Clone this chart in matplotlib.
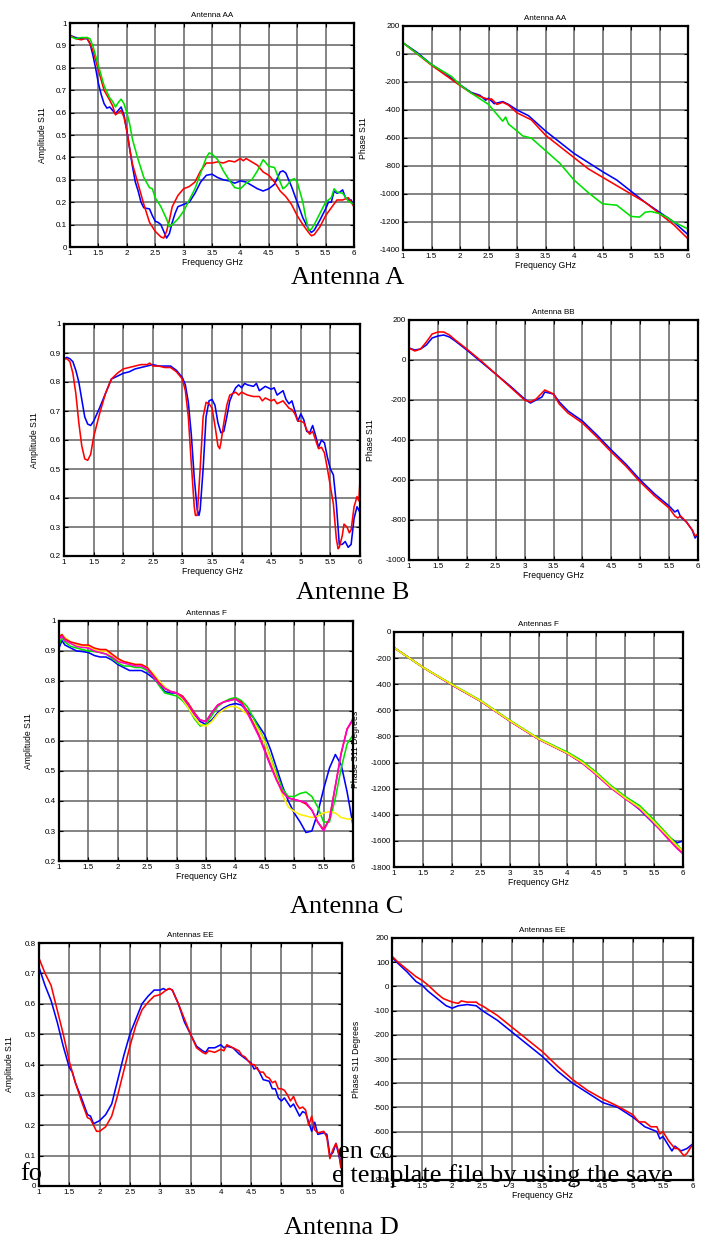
import matplotlib
matplotlib.use("Agg")
import matplotlib.pyplot as plt
import numpy as np

W, H = 707, 1238
DPI = 100

# ---------------- Data ----------------
# Panel 1: Antenna AA amplitude
aa_amp_blue_f = [1.0,1.1,1.2,1.3,1.35,1.4,1.45,1.5,1.55,1.6,1.65,1.7,1.75,1.8,1.85,1.9,1.95,2.0,2.05,2.1,2.15,2.2,2.25,2.3,2.4,2.45,2.5,2.55,2.6,2.65,2.7,2.75,2.8,2.85,2.9,3.0,3.1,3.2,3.3,3.4,3.5,3.6,3.7,3.8,3.9,4.0,4.1,4.2,4.3,4.4,4.5,4.6,4.7,4.75,4.8,4.9,5.0,5.1,5.2,5.25,5.3,5.4,5.5,5.55,5.6,5.65,5.7,5.75,5.8,5.85,5.9,5.95,6.0]
aa_amp_blue = [0.945,0.935,0.93,0.93,0.91,0.86,0.8,0.73,0.68,0.64,0.62,0.625,0.61,0.595,0.61,0.625,0.59,0.52,0.44,0.36,0.29,0.25,0.2,0.175,0.17,0.14,0.115,0.11,0.1,0.07,0.04,0.06,0.11,0.15,0.18,0.19,0.2,0.24,0.29,0.32,0.325,0.31,0.3,0.295,0.285,0.295,0.29,0.275,0.26,0.25,0.26,0.28,0.335,0.34,0.33,0.27,0.2,0.13,0.08,0.065,0.075,0.12,0.17,0.2,0.2,0.25,0.24,0.245,0.255,0.22,0.21,0.21,0.18]
aa_amp_red_f = [1.0,1.1,1.2,1.3,1.4,1.5,1.6,1.7,1.75,1.8,1.85,1.9,1.95,2.0,2.05,2.1,2.2,2.3,2.4,2.5,2.6,2.65,2.7,2.75,2.8,2.9,3.0,3.1,3.2,3.3,3.4,3.5,3.6,3.7,3.8,3.9,4.0,4.05,4.1,4.2,4.3,4.4,4.5,4.6,4.7,4.8,4.9,5.0,5.1,5.2,5.25,5.3,5.4,5.5,5.6,5.7,5.8,5.9,6.0]
aa_amp_red = [0.945,0.93,0.925,0.935,0.88,0.79,0.7,0.655,0.63,0.59,0.6,0.61,0.58,0.52,0.44,0.37,0.28,0.19,0.11,0.07,0.045,0.04,0.07,0.12,0.18,0.23,0.26,0.27,0.29,0.34,0.375,0.375,0.38,0.375,0.385,0.38,0.395,0.385,0.395,0.38,0.365,0.335,0.32,0.29,0.25,0.225,0.19,0.14,0.1,0.065,0.05,0.055,0.09,0.14,0.175,0.21,0.21,0.22,0.18]
aa_amp_green_f = [1.0,1.1,1.2,1.3,1.35,1.4,1.5,1.6,1.7,1.75,1.8,1.85,1.9,1.95,2.0,2.05,2.1,2.2,2.3,2.4,2.45,2.5,2.55,2.6,2.7,2.75,2.8,2.9,3.0,3.1,3.2,3.3,3.4,3.45,3.5,3.6,3.7,3.8,3.9,4.0,4.1,4.2,4.3,4.4,4.5,4.6,4.7,4.75,4.8,4.9,4.95,5.0,5.1,5.15,5.2,5.25,5.3,5.4,5.5,5.6,5.65,5.7,5.8,5.9,6.0]
aa_amp_green = [0.94,0.93,0.935,0.935,0.93,0.9,0.81,0.72,0.665,0.65,0.625,0.645,0.66,0.64,0.6,0.55,0.48,0.39,0.31,0.265,0.26,0.22,0.2,0.18,0.125,0.09,0.1,0.125,0.16,0.21,0.26,0.33,0.4,0.42,0.415,0.39,0.34,0.3,0.265,0.26,0.285,0.3,0.34,0.39,0.36,0.355,0.29,0.26,0.27,0.3,0.305,0.29,0.2,0.13,0.075,0.08,0.1,0.15,0.2,0.22,0.26,0.245,0.24,0.205,0.19]

# Panel 2: Antenna AA phase
aa_ph_blue_f = [1.0,1.25,1.5,1.75,2.0,2.2,2.35,2.45,2.5,2.6,2.75,2.85,3.0,3.2,3.5,4.0,4.5,4.75,5.0,5.25,5.5,5.75,6.0]
aa_ph_blue = [80,10,-75,-140,-220,-275,-295,-330,-315,-355,-340,-360,-400,-440,-550,-710,-840,-900,-980,-1060,-1130,-1200,-1290]
aa_ph_red_f = [1.0,1.5,2.0,2.2,2.4,2.5,2.55,2.65,2.75,2.85,3.0,3.25,3.5,4.0,4.25,4.5,4.75,5.0,5.25,5.5,5.75,6.0]
aa_ph_red = [80,-80,-225,-280,-310,-325,-320,-360,-345,-365,-420,-470,-580,-740,-820,-880,-940,-1000,-1060,-1140,-1220,-1320]
aa_ph_green_f = [1.0,1.5,1.85,2.0,2.2,2.5,2.75,2.8,2.85,3.0,3.1,3.25,3.5,3.75,4.0,4.25,4.5,4.75,5.0,5.15,5.25,5.35,5.5,5.65,5.75,6.0]
aa_ph_green = [80,-75,-160,-220,-280,-360,-480,-450,-500,-550,-585,-600,-690,-780,-900,-990,-1070,-1080,-1160,-1165,-1130,-1125,-1140,-1170,-1200,-1250]

# Panel 3: Antenna B amplitude
bb_amp_blue_f = [1.0,1.05,1.1,1.15,1.2,1.25,1.3,1.35,1.4,1.45,1.5,1.6,1.7,1.8,1.9,2.0,2.1,2.2,2.3,2.4,2.5,2.6,2.7,2.8,2.9,3.0,3.05,3.1,3.15,3.2,3.25,3.28,3.3,3.35,3.4,3.45,3.5,3.55,3.6,3.65,3.7,3.75,3.8,3.85,3.9,3.95,4.0,4.05,4.1,4.2,4.25,4.3,4.4,4.5,4.55,4.6,4.7,4.75,4.8,4.85,4.9,4.95,5.0,5.05,5.1,5.15,5.2,5.25,5.3,5.35,5.4,5.45,5.5,5.55,5.6,5.65,5.7,5.75,5.8,5.85,5.9,5.95,6.0]
bb_amp_blue = [0.88,0.885,0.88,0.87,0.84,0.8,0.74,0.68,0.655,0.65,0.665,0.71,0.76,0.81,0.82,0.83,0.835,0.845,0.85,0.855,0.86,0.855,0.855,0.855,0.84,0.815,0.79,0.73,0.62,0.47,0.36,0.34,0.36,0.5,0.68,0.735,0.74,0.72,0.66,0.625,0.63,0.68,0.735,0.76,0.78,0.79,0.78,0.795,0.79,0.785,0.795,0.77,0.785,0.775,0.78,0.755,0.77,0.74,0.725,0.735,0.7,0.665,0.69,0.67,0.63,0.625,0.65,0.615,0.575,0.6,0.59,0.54,0.5,0.48,0.38,0.24,0.24,0.25,0.23,0.24,0.33,0.37,0.35]
bb_amp_red_f = [1.0,1.05,1.1,1.15,1.2,1.25,1.3,1.35,1.4,1.45,1.5,1.6,1.7,1.8,1.9,2.0,2.1,2.2,2.3,2.4,2.45,2.5,2.6,2.7,2.8,2.9,3.0,3.05,3.1,3.15,3.2,3.22,3.25,3.3,3.35,3.4,3.45,3.5,3.55,3.6,3.63,3.65,3.7,3.75,3.8,3.9,3.95,4.0,4.1,4.2,4.3,4.35,4.4,4.5,4.55,4.6,4.7,4.8,4.85,4.9,4.95,5.0,5.05,5.1,5.15,5.2,5.25,5.3,5.35,5.4,5.45,5.5,5.55,5.6,5.63,5.65,5.7,5.73,5.78,5.82,5.85,5.9,5.95,5.98,6.0]
bb_amp_red = [0.88,0.88,0.87,0.83,0.76,0.66,0.58,0.535,0.53,0.55,0.61,0.69,0.76,0.81,0.83,0.845,0.85,0.855,0.86,0.86,0.865,0.855,0.855,0.85,0.85,0.835,0.81,0.77,0.68,0.52,0.37,0.34,0.34,0.5,0.68,0.73,0.725,0.71,0.65,0.58,0.57,0.59,0.66,0.72,0.755,0.765,0.755,0.765,0.755,0.75,0.75,0.735,0.745,0.735,0.74,0.725,0.735,0.71,0.705,0.69,0.665,0.665,0.66,0.635,0.62,0.63,0.6,0.57,0.575,0.555,0.5,0.44,0.38,0.26,0.225,0.23,0.27,0.31,0.3,0.28,0.29,0.37,0.405,0.39,0.46]

# Panel 4: Antenna BB phase
bb_ph_blue_f = [1.0,1.1,1.2,1.3,1.4,1.5,1.6,1.7,1.8,2.0,2.25,2.5,2.75,3.0,3.1,3.2,3.3,3.35,3.5,3.6,3.75,4.0,4.25,4.5,4.75,5.0,5.25,5.5,5.6,5.65,5.7,5.8,5.9,5.95,6.0]
bb_ph_blue = [60,50,55,75,110,120,125,115,95,50,-10,-70,-130,-195,-215,-200,-185,-160,-170,-210,-255,-305,-375,-450,-520,-600,-670,-730,-760,-750,-785,-810,-850,-890,-870]
bb_ph_red_f = [1.0,1.1,1.2,1.3,1.4,1.5,1.6,1.7,1.8,2.0,2.25,2.5,2.75,3.0,3.1,3.2,3.25,3.35,3.5,3.6,3.75,4.0,4.25,4.5,4.75,5.0,5.25,5.5,5.6,5.65,5.7,5.8,5.9,5.95,6.0]
bb_ph_red = [60,45,55,90,130,140,140,125,100,55,-5,-70,-135,-200,-210,-195,-180,-150,-170,-220,-265,-315,-385,-460,-530,-610,-680,-740,-780,-790,-780,-810,-850,-880,-870]

# Panel 5: Antennas F amplitude
f_amp_f = [1.0,1.05,1.1,1.2,1.3,1.4,1.5,1.6,1.7,1.8,1.9,2.0,2.1,2.2,2.3,2.4,2.5,2.6,2.7,2.8,2.9,3.0,3.1,3.2,3.3,3.4,3.5,3.6,3.7,3.8,3.9,4.0,4.1,4.2,4.3,4.4,4.5,4.6,4.7,4.8,4.9,5.0,5.1,5.2,5.3,5.4,5.5,5.6,5.7,5.8,5.9,6.0]
f_amp_blue = [0.91,0.935,0.92,0.91,0.9,0.898,0.895,0.885,0.88,0.88,0.87,0.855,0.845,0.835,0.835,0.835,0.825,0.81,0.79,0.765,0.76,0.76,0.745,0.72,0.69,0.665,0.655,0.67,0.695,0.71,0.72,0.725,0.72,0.7,0.68,0.65,0.62,0.57,0.51,0.45,0.4,0.36,0.33,0.295,0.3,0.36,0.44,0.51,0.555,0.52,0.43,0.32]
f_amp_green = [0.92,0.945,0.93,0.915,0.91,0.905,0.9,0.898,0.895,0.89,0.875,0.86,0.85,0.85,0.845,0.845,0.835,0.815,0.785,0.76,0.755,0.75,0.735,0.71,0.675,0.65,0.655,0.685,0.715,0.73,0.74,0.745,0.735,0.715,0.68,0.64,0.6,0.545,0.49,0.44,0.415,0.415,0.425,0.43,0.415,0.38,0.33,0.33,0.41,0.51,0.59,0.62]
f_amp_red = [0.945,0.955,0.94,0.93,0.925,0.92,0.92,0.91,0.905,0.905,0.89,0.875,0.865,0.86,0.855,0.855,0.845,0.82,0.795,0.775,0.765,0.76,0.75,0.725,0.695,0.67,0.665,0.695,0.72,0.73,0.735,0.74,0.73,0.7,0.66,0.62,0.57,0.52,0.47,0.43,0.41,0.405,0.4,0.39,0.37,0.33,0.305,0.34,0.45,0.56,0.64,0.67]
f_amp_magenta = [0.94,0.95,0.935,0.925,0.915,0.912,0.91,0.9,0.895,0.89,0.88,0.865,0.86,0.855,0.85,0.85,0.84,0.815,0.79,0.775,0.765,0.76,0.745,0.72,0.69,0.67,0.665,0.695,0.72,0.73,0.735,0.74,0.725,0.695,0.655,0.615,0.565,0.515,0.47,0.43,0.41,0.405,0.4,0.395,0.37,0.33,0.3,0.34,0.45,0.56,0.64,0.675]
f_amp_yellow = [0.95,0.955,0.945,0.93,0.92,0.918,0.915,0.905,0.9,0.9,0.885,0.87,0.865,0.86,0.855,0.855,0.845,0.825,0.8,0.78,0.765,0.76,0.74,0.71,0.68,0.655,0.65,0.665,0.69,0.705,0.715,0.715,0.705,0.69,0.665,0.635,0.595,0.54,0.48,0.42,0.38,0.365,0.355,0.35,0.345,0.35,0.36,0.365,0.36,0.345,0.34,0.34]

# Panel 6: Antennas F phase
f_ph_f = [1.0,1.5,2.0,2.5,3.0,3.5,4.0,4.25,4.5,4.75,5.0,5.25,5.5,5.75,5.9,6.0]
f_ph_blue = [-120,-270,-405,-530,-680,-820,-930,-1000,-1090,-1190,-1270,-1360,-1470,-1570,-1615,-1600]
f_ph_green = [-120,-270,-400,-525,-675,-815,-920,-985,-1075,-1175,-1260,-1330,-1440,-1560,-1630,-1680]
f_ph_red = [-120,-270,-405,-530,-680,-820,-930,-1000,-1090,-1190,-1275,-1350,-1460,-1580,-1650,-1690]
f_ph_magenta = [-120,-270,-405,-530,-682,-822,-932,-1002,-1095,-1195,-1278,-1355,-1465,-1590,-1660,-1700]
f_ph_yellow = [-120,-270,-402,-528,-678,-818,-928,-995,-1085,-1185,-1270,-1345,-1455,-1570,-1640,-1680]

# Panel 7: Antennas EE amplitude
ee_amp_blue_f = [1.0,1.1,1.2,1.3,1.4,1.5,1.55,1.6,1.7,1.8,1.85,1.9,2.0,2.1,2.2,2.3,2.4,2.5,2.6,2.7,2.8,2.9,3.0,3.05,3.1,3.15,3.2,3.3,3.4,3.5,3.6,3.7,3.75,3.8,3.9,4.0,4.05,4.1,4.2,4.3,4.4,4.5,4.55,4.6,4.7,4.8,4.85,4.9,4.95,5.0,5.05,5.1,5.15,5.2,5.25,5.3,5.35,5.4,5.45,5.5,5.55,5.6,5.7,5.75,5.8,5.85,5.9,5.95,5.98,6.0]
ee_amp_blue = [0.72,0.66,0.61,0.54,0.46,0.39,0.375,0.34,0.29,0.235,0.23,0.205,0.215,0.235,0.27,0.35,0.43,0.5,0.55,0.6,0.625,0.645,0.645,0.65,0.645,0.65,0.645,0.6,0.54,0.5,0.46,0.445,0.44,0.455,0.455,0.465,0.455,0.46,0.455,0.435,0.42,0.405,0.385,0.39,0.35,0.345,0.32,0.32,0.29,0.28,0.29,0.275,0.26,0.27,0.25,0.23,0.245,0.24,0.21,0.18,0.21,0.17,0.175,0.17,0.1,0.11,0.14,0.1,0.07,0.11]
ee_amp_red_f = [1.0,1.1,1.2,1.3,1.4,1.5,1.6,1.7,1.8,1.85,1.9,1.95,2.0,2.1,2.2,2.3,2.4,2.5,2.6,2.7,2.8,2.9,3.0,3.1,3.15,3.2,3.3,3.4,3.5,3.6,3.7,3.75,3.8,3.9,4.0,4.05,4.1,4.2,4.3,4.35,4.4,4.5,4.55,4.6,4.65,4.7,4.75,4.8,4.85,4.9,4.95,5.0,5.05,5.1,5.15,5.2,5.25,5.3,5.35,5.4,5.45,5.5,5.55,5.6,5.7,5.75,5.8,5.85,5.9,5.95,5.98,6.0]
ee_amp_red = [0.75,0.7,0.66,0.58,0.5,0.41,0.34,0.28,0.225,0.22,0.2,0.18,0.18,0.195,0.23,0.3,0.38,0.46,0.53,0.58,0.605,0.625,0.63,0.645,0.65,0.645,0.6,0.55,0.5,0.455,0.44,0.435,0.445,0.44,0.45,0.445,0.465,0.455,0.445,0.43,0.425,0.4,0.4,0.385,0.375,0.375,0.36,0.355,0.34,0.345,0.32,0.32,0.315,0.3,0.28,0.295,0.27,0.255,0.26,0.25,0.2,0.23,0.185,0.175,0.18,0.16,0.09,0.12,0.14,0.11,0.06,0.095]

# Panel 8: Antennas EE phase
ee_ph_red_f = [1.0,1.1,1.25,1.4,1.5,1.6,1.75,1.85,2.0,2.1,2.15,2.25,2.4,2.45,2.5,2.75,3.0,3.25,3.5,3.75,4.0,4.25,4.5,4.75,5.0,5.1,5.2,5.3,5.4,5.45,5.5,5.6,5.7,5.75,5.85,5.9,6.0]
ee_ph_red = [125,100,70,40,25,5,-30,-50,-65,-70,-60,-65,-65,-75,-80,-120,-170,-220,-270,-330,-385,-430,-465,-495,-530,-560,-560,-580,-580,-610,-600,-640,-670,-670,-700,-690,-650]
ee_ph_blue_f = [1.0,1.1,1.25,1.4,1.5,1.6,1.75,1.9,2.0,2.1,2.25,2.4,2.5,2.75,3.0,3.25,3.5,3.75,4.0,4.25,4.5,4.75,5.0,5.1,5.2,5.3,5.4,5.45,5.5,5.6,5.65,5.7,5.8,5.9,6.0]
ee_ph_blue = [120,95,60,20,5,-20,-50,-80,-90,-80,-75,-80,-100,-140,-190,-240,-290,-350,-400,-440,-480,-500,-540,-560,-580,-590,-600,-630,-620,-660,-680,-660,-680,-670,-650]

# Text
x_ticks = [1, 1.5, 2, 2.5, 3, 3.5, 4, 4.5, 5, 5.5, 6]
x_tick_labels = ["1", "1.5", "2", "2.5", "3", "3.5", "4", "4.5", "5", "5.5", "6"]
captions = ["Antenna A", "Antenne B", "Antenna C", "Antenna D"]

# ---------------- Figure ----------------
plt.rcParams['font.family'] = ['Liberation Sans', 'DejaVu Sans']
fig = plt.figure(figsize=(W / DPI, H / DPI), dpi=DPI)

SANS = 5.8
GRID = '#626262'


def make_ax(x0, y0, x1, y1, ylim, yticks, ylabels, title, ylabel, ylabel_x,
            xlabel=True, z=1):
    ax = fig.add_axes([x0 / W, 1 - y1 / H, (x1 - x0) / W, (y1 - y0) / H], zorder=z)
    ax.set_xlim(1, 6)
    ax.set_ylim(*ylim)
    ax.set_xticks(x_ticks)
    ax.set_xticklabels(x_tick_labels)
    ax.set_yticks(yticks)
    ax.set_yticklabels(ylabels)
    ax.tick_params(direction='in', top=True, right=True, length=3, width=0.8,
                   labelsize=SANS, pad=2, colors='black')
    ax.grid(True, color=GRID, linewidth=1.1, linestyle='-')
    ax.set_axisbelow(True)
    for s in ax.spines.values():
        s.set_linewidth(1.6)
        s.set_color('black')
    if title:
        ax.set_title(title, fontsize=SANS, pad=4)
    if xlabel:
        ax.set_xlabel("Frequency GHz", fontsize=SANS + 0.4, labelpad=1)
    ax.set_ylabel(ylabel, fontsize=SANS + 0.4)
    ax.yaxis.set_label_coords((ylabel_x - x0) / (x1 - x0), 0.5)
    return ax


def fmt(vals):
    out = []
    for v in vals:
        if abs(v - round(v)) < 1e-9:
            out.append(str(int(round(v))))
        else:
            out.append(("%g" % v))
    return out


amp10 = [round(0.1 * i, 1) for i in range(0, 11)]
amp_b = [round(0.2 + 0.1 * i, 1) for i in range(0, 9)]
amp_ee = [round(0.1 * i, 1) for i in range(0, 9)]

LW = 1.15

# Panel 1
ax = make_ax(70, 23, 354, 247, (0, 1), amp10, fmt(amp10), "Antenna AA", "Amplitude S11", 47)
ax.plot(aa_amp_blue_f, aa_amp_blue, color='blue', lw=LW)
ax.plot(aa_amp_red_f, aa_amp_red, color='red', lw=LW)
ax.plot(aa_amp_green_f, aa_amp_green, color='#00e000', lw=LW)

# Panel 2
ph2 = list(range(-1400, 201, 200))
ax = make_ax(403, 26, 688, 250, (-1400, 200), ph2, fmt(ph2), "Antenna AA", "Phase S11", 368)
ax.plot(aa_ph_blue_f, aa_ph_blue, color='blue', lw=LW)
ax.plot(aa_ph_red_f, aa_ph_red, color='red', lw=LW)
ax.plot(aa_ph_green_f, aa_ph_green, color='#00e000', lw=LW)

# Panel 3
ax = make_ax(64, 324, 360, 556, (0.2, 1), amp_b, fmt(amp_b), None, "Amplitude S11", 39)
ax.plot(bb_amp_blue_f, bb_amp_blue, color='blue', lw=LW)
ax.plot(bb_amp_red_f, bb_amp_red, color='red', lw=LW)

# Panel 4
ph4 = list(range(-1000, 201, 200))
ax = make_ax(409, 320, 698, 560, (-1000, 200), ph4, fmt(ph4), "Antenna BB", "Phase S11", 375)
ax.plot(bb_ph_blue_f, bb_ph_blue, color='blue', lw=LW)
ax.plot(bb_ph_red_f, bb_ph_red, color='red', lw=LW)

# Panel 5
ax = make_ax(59, 621, 353, 861, (0.2, 1), amp_b, fmt(amp_b), "Antennas F", "Amplitude S11", 33)
ax.plot(f_amp_f, f_amp_blue, color='blue', lw=LW)
ax.plot(f_amp_f, f_amp_green, color='#00e000', lw=LW)
ax.plot(f_amp_f, f_amp_yellow, color='#ffee00', lw=LW)
ax.plot(f_amp_f, f_amp_red, color='red', lw=LW)
ax.plot(f_amp_f, f_amp_magenta, color='#ff00cc', lw=LW)

# Panel 6
ph6 = list(range(-1800, 1, 200))
ax = make_ax(394, 632, 683, 867, (-1800, 0), ph6, fmt(ph6), "Antennas F", "Phase S11 Degrees", 360)
ax.plot(f_ph_f, f_ph_blue, color='blue', lw=LW)
ax.plot(f_ph_f, f_ph_red, color='red', lw=LW)
ax.plot(f_ph_f, f_ph_magenta, color='#ff00cc', lw=LW)
ax.plot(f_ph_f, f_ph_green, color='#00e000', lw=LW)
ax.plot(f_ph_f, f_ph_yellow, color='#ffee00', lw=LW)

# Panel 7
ax = make_ax(39, 943, 342, 1186, (0, 0.8), amp_ee, fmt(amp_ee), "Antennas EE", "Amplitude S11", 14,
             xlabel=False)
ax.plot(ee_amp_blue_f, ee_amp_blue, color='blue', lw=LW)
ax.plot(ee_amp_red_f, ee_amp_red, color='red', lw=LW)

# Panel 8
ph8 = list(range(-800, 201, 100))
ax = make_ax(392, 938, 693, 1180, (-800, 200), ph8, fmt(ph8), "Antennas EE", "Phase S11 Degrees", 361,
             z=2)
ax.plot(ee_ph_blue_f, ee_ph_blue, color='blue', lw=LW)
ax.plot(ee_ph_red_f, ee_ph_red, color='red', lw=LW)

# Captions (serif)
SERIF = ['Liberation Serif', 'DejaVu Serif']
CAP = 19
cap_pos = [(348, 278), (353, 593), (347, 907), (341, 1228)]
for txt, (cx, cy) in zip(captions, cap_pos):
    fig.text(cx / W, 1 - cy / H, txt, fontsize=CAP, family=SERIF, ha='center', va='center')

# Overlapping body-text fragments from the source page
fig.text(338 / W, 1 - 1152 / H, "en co", fontsize=CAP, family=SERIF, ha='left', va='center', zorder=1)
fig.text(20 / W, 1 - 1174 / H, "fo", fontsize=CAP, family=SERIF, ha='left', va='center', zorder=5)
fig.text(332 / W, 1 - 1176 / H, "e template file by using the save", fontsize=CAP, family=SERIF,
         ha='left', va='center', zorder=5)

fig.savefig("out.png", dpi=DPI)
